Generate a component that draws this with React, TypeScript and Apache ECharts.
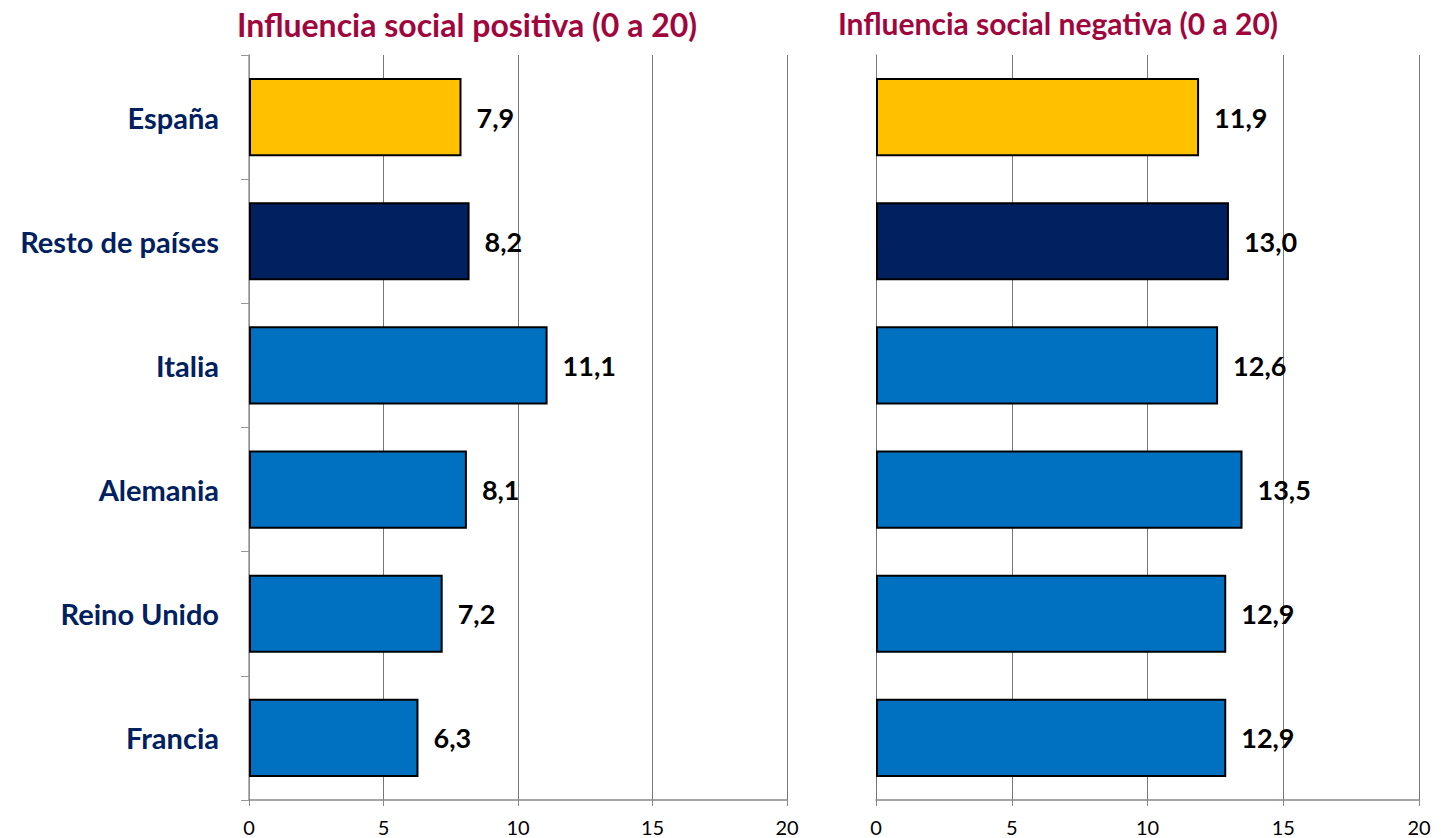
import React, { useEffect, useRef } from "react";
import * as echarts from "echarts";

const categories = ["España", "Resto de países", "Italia", "Alemania", "Reino Unido", "Francia"];
const positiveValues = [7.9, 8.2, 11.1, 8.1, 7.2, 6.3];
const negativeValues = [11.9, 13.0, 12.6, 13.5, 12.9, 12.9];
const barColors = ["#FFC000", "#002060", "#0070C0", "#0070C0", "#0070C0", "#0070C0"];
const titles = ["Influencia social positiva (0 a 20)", "Influencia social negativa (0 a 20)"];
const xTicks = { min: 0, max: 20, interval: 5 };

const FONT = "Lato, 'Open Sans', sans-serif";

function makeData(values: number[]) {
  return values.map((v, i) => ({
    value: v,
    itemStyle: { color: barColors[i], borderColor: "#000", borderWidth: 2 },
  }));
}

export default function App() {
  const ref = useRef<HTMLDivElement>(null);
  useEffect(() => {
    if (!ref.current) return;
    const chart = echarts.init(ref.current, undefined, { renderer: "svg" });
    const xAxisBase = {
      type: "value",
      min: xTicks.min,
      max: xTicks.max,
      interval: xTicks.interval,
      axisLine: { show: true, lineStyle: { color: "#888", width: 1.5 } },
      axisTick: { show: true, length: 6, lineStyle: { color: "#888" } },
      axisLabel: { color: "#000", fontSize: 20, fontFamily: FONT, margin: 17 },
      splitLine: { show: true, lineStyle: { color: "#777", width: 1 } },
    };
    const label = {
      show: true,
      position: "right",
      distance: 15,
      color: "#000",
      fontSize: 27,
      fontWeight: "bold",
      fontFamily: FONT,
      formatter: (p: any) => p.value.toFixed(1).replace(".", ","),
    };
    const titleStyle = { color: "#A0063D", fontSize: 32, fontWeight: "bold", fontFamily: FONT };
    chart.setOption({
      animation: false,
      backgroundColor: "#fff",
      title: [
        { text: titles[0], left: 462, top: 3, textAlign: "center", textStyle: titleStyle },
        { text: titles[1], left: 1053, top: 3, textAlign: "center", textStyle: { ...titleStyle, fontSize: 30 } },
      ],
      grid: [
        { left: 249, right: 654, top: 55, bottom: 38 },
        { left: 876, right: 22, top: 55, bottom: 38 },
      ],
      xAxis: [
        { ...xAxisBase, gridIndex: 0 },
        { ...xAxisBase, gridIndex: 1 },
      ],
      yAxis: [
        {
          type: "category",
          gridIndex: 0,
          inverse: true,
          data: categories,
          axisLine: { show: true, lineStyle: { color: "#999", width: 1.5 } },
          axisTick: { show: true, length: 8, lineStyle: { color: "#999" } },
          axisLabel: {
            color: "#002060",
            fontSize: 29,
            fontWeight: "bold",
            fontFamily: FONT,
            margin: 30,
          },
        },
        {
          type: "category",
          gridIndex: 1,
          inverse: true,
          data: categories,
          axisLine: { show: true, lineStyle: { color: "#777", width: 1 } },
          axisTick: { show: false },
          axisLabel: { show: false },
        },
      ],
      series: [
        {
          type: "bar",
          xAxisIndex: 0,
          yAxisIndex: 0,
          data: makeData(positiveValues),
          barCategoryGap: "37%",
          label,
        },
        {
          type: "bar",
          xAxisIndex: 1,
          yAxisIndex: 1,
          data: makeData(negativeValues),
          barCategoryGap: "37%",
          label,
        },
      ],
    });
    return () => chart.dispose();
  }, []);
  return (
    <div
      ref={ref}
      style={{ position: "absolute", left: 0, top: 0, width: 1441, height: 838 }}
    />
  );
}
